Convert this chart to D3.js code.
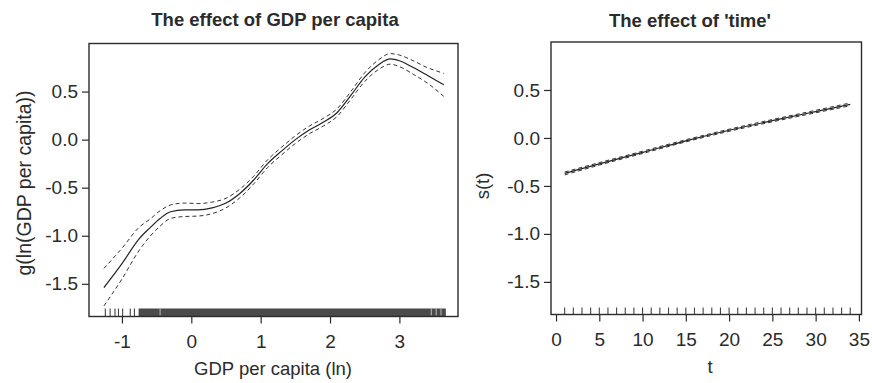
<!DOCTYPE html>
<html>
<head>
<meta charset="utf-8">
<script src="https://cdn.jsdelivr.net/npm/d3@7"></script>
<style>
  html, body { margin: 0; padding: 0; background: #fff; }
  svg { display: block; font-family: "Liberation Sans", Arial, Helvetica, sans-serif; }
</style>
</head>
<body>
<svg id="chart" width="872" height="383"></svg>
<script>
// ---- smooth term for ln(GDP per capita) ----
const gdpX     = [-1.26, -1.0, -0.75, -0.6, -0.45, -0.3, -0.1, 0.1, 0.3, 0.5, 0.7, 0.9, 1.1, 1.3, 1.5, 1.7, 1.9, 2.1, 2.3, 2.5, 2.7, 2.87, 3.0, 3.2, 3.4, 3.64];
const gdpFit   = [-1.54, -1.29, -1.03, -0.92, -0.82, -0.75, -0.73, -0.73, -0.71, -0.66, -0.56, -0.42, -0.25, -0.12, 0.00, 0.10, 0.18, 0.28, 0.46, 0.65, 0.78, 0.84, 0.82, 0.75, 0.67, 0.57];
const gdpUpper = [-1.34, -1.13, -0.91, -0.83, -0.74, -0.68, -0.66, -0.665, -0.65, -0.61, -0.515, -0.38, -0.21, -0.08, 0.04, 0.14, 0.22, 0.32, 0.50, 0.695, 0.83, 0.895, 0.88, 0.82, 0.75, 0.69];
const gdpLower = [-1.73, -1.45, -1.15, -1.01, -0.90, -0.82, -0.80, -0.795, -0.77, -0.71, -0.605, -0.46, -0.29, -0.16, -0.04, 0.06, 0.14, 0.24, 0.42, 0.605, 0.73, 0.785, 0.76, 0.68, 0.59, 0.45];
const gdpRug      = [-1.24, -1.17, -1.10, -1.05, -0.99, -0.88, -0.82];
const gdpRugBand  = [-0.76, 3.67];
const gdpRugGaps  = [-0.45, 3.46, 3.53, 3.60];
const gdpXTicks   = [-1, 0, 1, 2, 3];

// ---- smooth term for time ----
const timeT     = [1, 5, 10, 15, 20, 25, 30, 34];
const timeFit   = [-0.37, -0.27, -0.15, -0.03, 0.08, 0.18, 0.275, 0.35];
const timeUpper = [-0.355, -0.257, -0.138, -0.019, 0.091, 0.192, 0.288, 0.365];
const timeLower = [-0.385, -0.283, -0.162, -0.041, 0.069, 0.168, 0.262, 0.335];
const timeRug   = [1, 2, 3, 4, 5, 6, 7, 8, 9, 10, 11, 12, 13, 14, 15, 16, 17, 18, 19, 20, 21, 22, 23, 24, 25, 26, 27, 28, 29, 30, 31, 32, 33, 34];
const timeXTicks = [0, 5, 10, 15, 20, 25, 30, 35];

const yTicks = [-1.5, -1.0, -0.5, 0.0, 0.5];

// plain hyphen-minus, as in base graphics output
const locale = d3.formatLocale({ decimal: ".", thousands: ",", grouping: [3], currency: ["", ""], minus: "-" });
const fmtInt = locale.format("d");
const fmtOne = locale.format(".1f");

const ink = "#2b2b2b";
const svg = d3.select("#chart");

function panel(cfg) {
  const g = svg.append("g");
  const x = d3.scaleLinear().domain(cfg.xDomain).range([cfg.left, cfg.right]);
  const y = d3.scaleLinear().domain([-1.84, 1.0]).range([cfg.bottom, cfg.top]);

  // rug along the bottom
  const rug = g.append("g").attr("stroke", "#444");
  rug.selectAll("line.r").data(cfg.rug).join("line")
    .attr("x1", d => x(d)).attr("x2", d => x(d))
    .attr("y1", cfg.bottom).attr("y2", cfg.bottom - cfg.rugLen)
    .attr("stroke-width", 1.1);
  if (cfg.band) {
    rug.append("rect")
      .attr("x", x(cfg.band[0])).attr("width", x(cfg.band[1]) - x(cfg.band[0]))
      .attr("y", cfg.bottom - cfg.rugLen).attr("height", cfg.rugLen)
      .attr("fill", "#4a4a4a").attr("stroke", "none");
    rug.selectAll("line.gap").data(cfg.gaps).join("line")
      .attr("class", "gap")
      .attr("x1", d => x(d)).attr("x2", d => x(d))
      .attr("y1", cfg.bottom - 1).attr("y2", cfg.bottom - cfg.rugLen)
      .attr("stroke", "#bbb").attr("stroke-width", 1);
  }

  // fitted curve with confidence limits
  const line = (xs, ys) => d3.line()
    .x((d, i) => x(xs[i])).y((d, i) => y(ys[i]))
    .curve(d3.curveMonotoneX)(ys);
  g.append("path").attr("d", line(cfg.xs, cfg.upper))
    .attr("fill", "none").attr("stroke", "#333").attr("stroke-width", 1)
    .attr("stroke-dasharray", "4,3");
  g.append("path").attr("d", line(cfg.xs, cfg.lower))
    .attr("fill", "none").attr("stroke", "#333").attr("stroke-width", 1)
    .attr("stroke-dasharray", "4,3");
  g.append("path").attr("d", line(cfg.xs, cfg.fit))
    .attr("fill", "none").attr("stroke", "#222").attr("stroke-width", 1.2);

  // box
  g.append("rect")
    .attr("x", cfg.left).attr("y", cfg.top)
    .attr("width", cfg.right - cfg.left).attr("height", cfg.bottom - cfg.top)
    .attr("fill", "none").attr("stroke", ink).attr("stroke-width", 1.4);

  // axes
  const xAxis = g.append("g").attr("transform", `translate(0,${cfg.bottom})`)
    .call(d3.axisBottom(x).tickValues(cfg.xTicks).tickSize(7).tickPadding(11).tickFormat(fmtInt));
  const yAxis = g.append("g").attr("transform", `translate(${cfg.left},0)`)
    .call(d3.axisLeft(y).tickValues(yTicks).tickSize(7).tickPadding(4).tickFormat(fmtOne));
  [xAxis, yAxis].forEach(a => {
    a.select(".domain").attr("stroke", ink).attr("stroke-width", 1.2);
    a.selectAll(".tick line").attr("stroke", ink).attr("stroke-width", 1.2);
    a.selectAll(".tick text").attr("fill", ink).attr("font-size", 19);
  });
  xAxis.select(".domain").attr("d", `M${x(cfg.xTicks[0])},0H${x(cfg.xTicks[cfg.xTicks.length - 1])}`);
  yAxis.select(".domain").remove();

  // titles
  g.append("text").attr("x", cfg.titleX).attr("y", cfg.titleY)
    .attr("text-anchor", "middle").attr("font-weight", "bold").attr("font-size", 18.5)
    .attr("fill", ink).text(cfg.title);
  g.append("text").attr("x", cfg.xLabelX).attr("y", cfg.xLabelY)
    .attr("text-anchor", "middle").attr("font-size", 18.5).attr("fill", ink).text(cfg.xLabel);
  g.append("text")
    .attr("transform", `translate(${cfg.yLabelX},${cfg.yLabelY}) rotate(-90)`)
    .attr("text-anchor", "middle").attr("font-size", cfg.yLabelSize).attr("fill", ink).text(cfg.yLabel);
}

panel({
  left: 89, right: 458, top: 43.5, bottom: 316.5,
  xDomain: [-1.475, 3.845],
  xs: gdpX, fit: gdpFit, upper: gdpUpper, lower: gdpLower,
  rug: gdpRug, band: gdpRugBand, gaps: gdpRugGaps, rugLen: 8,
  xTicks: gdpXTicks,
  title: "The effect of GDP per capita", titleX: 275, titleY: 26,
  xLabel: "GDP per capita (ln)", xLabelX: 273, xLabelY: 375,
  yLabel: "g(ln(GDP per capita))", yLabelX: 31, yLabelY: 183, yLabelSize: 19.5
});

panel({
  left: 551, right: 861.5, top: 42, bottom: 314.5,
  xDomain: [-0.58, 35.3],
  xs: timeT, fit: timeFit, upper: timeUpper, lower: timeLower,
  rug: timeRug, band: null, gaps: [], rugLen: 7,
  xTicks: timeXTicks,
  title: "The effect of 'time'", titleX: 690, titleY: 27,
  xLabel: "t", xLabelX: 710, xLabelY: 373,
  yLabel: "s(t)", yLabelX: 489, yLabelY: 186, yLabelSize: 18.5
});
</script>
</body>
</html>
